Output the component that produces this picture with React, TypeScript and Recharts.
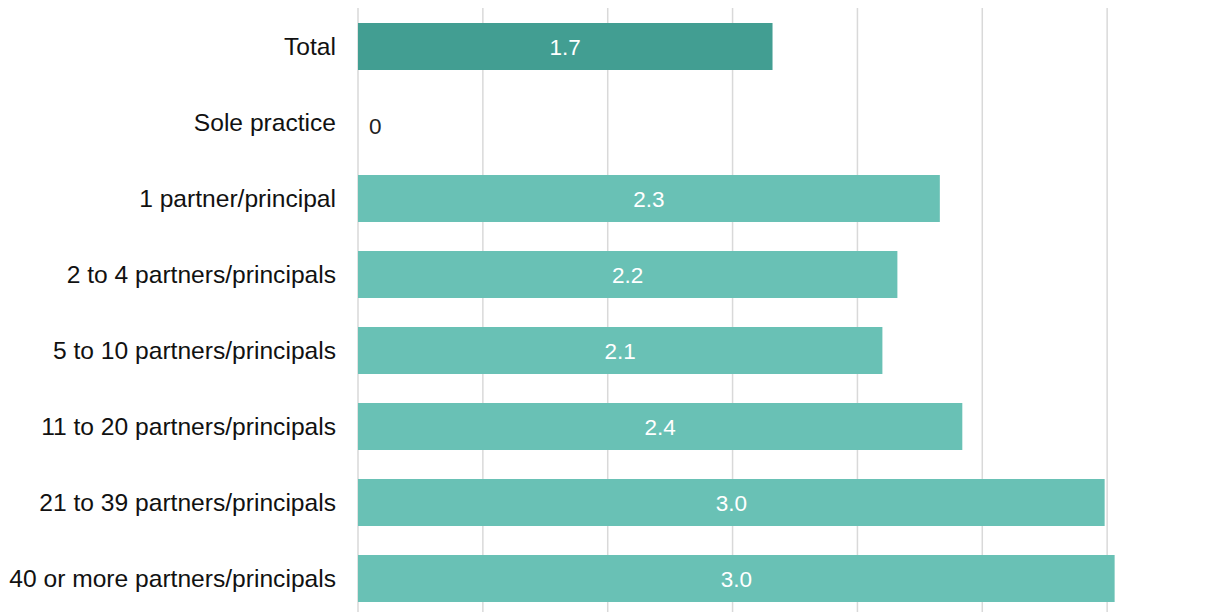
import { Bar, BarChart, CartesianGrid, Cell, LabelList, XAxis, YAxis } from "recharts"

const categories = [
  "Total",
  "Sole practice",
  "1 partner/principal",
  "2 to 4 partners/principals",
  "5 to 10 partners/principals",
  "11 to 20 partners/principals",
  "21 to 39 partners/principals",
  "40 or more partners/principals",
]

const values = [1.66, 0, 2.33, 2.16, 2.1, 2.42, 2.99, 3.03]

const labels = ["1.7", "0", "2.3", "2.2", "2.1", "2.4", "3.0", "3.0"]

const xTicks = [0, 0.5, 1, 1.5, 2, 2.5, 3, 3.5]

const data = categories.map((name, i) => ({ name, value: values[i], label: labels[i] }))

const renderLabel = (props: any) => {
  const { x, y, width, height, value } = props
  if (value === "0") {
    return (
      <text x={x + 11} y={y + height / 2 + 11} fill="#222" fontSize={22.5} textAnchor="start">
        {value}
      </text>
    )
  }
  return (
    <text x={x + width / 2} y={y + height / 2 + 8} fill="#fff" fontSize={22.5} textAnchor="middle">
      {value}
    </text>
  )
}

export default function App() {
  return (
    <div style={{ fontFamily: "'Liberation Sans', Arial, sans-serif" }}>
      <BarChart
        width={1224}
        height={608}
        data={data}
        layout="vertical"
        margin={{ top: 0, right: 0, bottom: 0, left: 0 }}
      >
        <CartesianGrid horizontal={false} stroke="#d9d9d9" strokeWidth={1.5} />
        <XAxis type="number" domain={[0, 3.5]} ticks={xTicks} hide />
        <YAxis
          type="category"
          dataKey="name"
          width={350}
          axisLine={false}
          tickLine={false}
          tickSize={0}
          tickMargin={22}
          tick={{ fill: "#111", fontSize: 24.6 }}
        />
        <Bar
          dataKey="value"
          barSize={47}
          minPointSize={(v: number) => (v === 0 ? 1 : 0)}
          isAnimationActive={false}
        >
          {data.map((d, i) => (
            <Cell
              key={d.name}
              fill={d.value === 0 ? "transparent" : i === 0 ? "#429e92" : "#69c1b5"}
            />
          ))}
          <LabelList dataKey="label" content={renderLabel} />
        </Bar>
      </BarChart>
    </div>
  )
}
